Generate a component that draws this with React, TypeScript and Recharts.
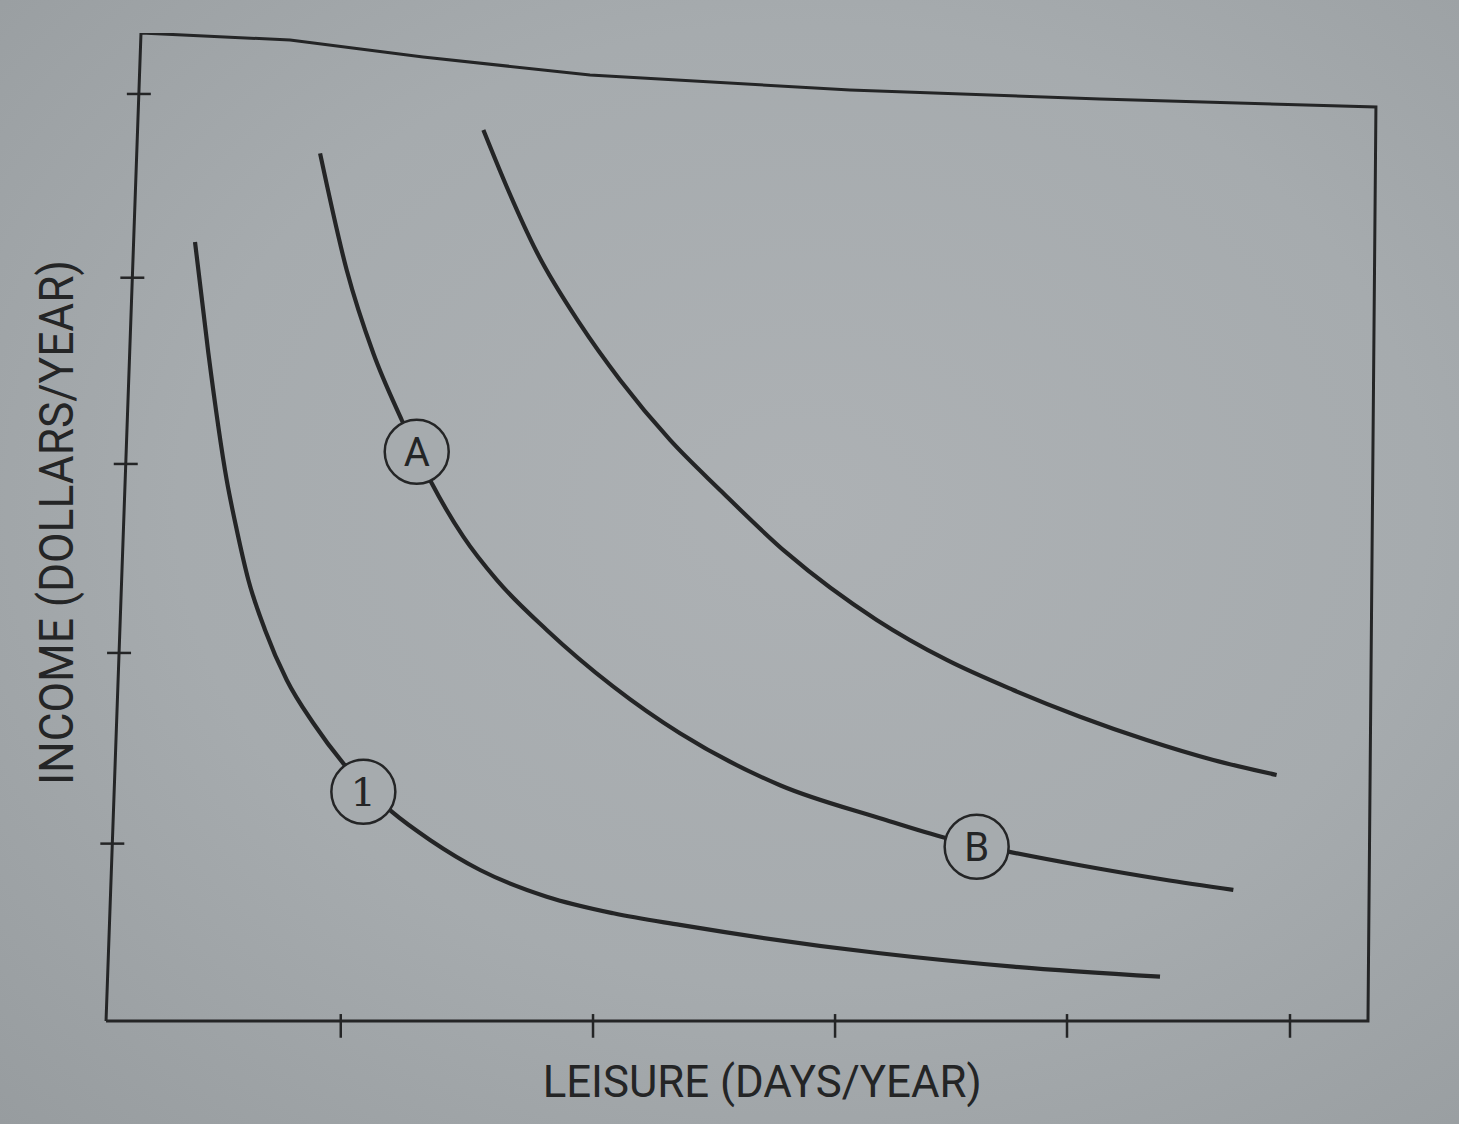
import { LineChart, Line, XAxis, YAxis, ReferenceDot, ReferenceLine } from 'recharts';

// Indifference curves (leisure, income in arbitrary 0-100 units)
const curveLow = [
  { leisure: 7.05, income: 78.85 },
  { leisure: 8.11, income: 67.58 },
  { leisure: 9.56, income: 54.76 },
  { leisure: 10.36, income: 49.7 },
  { leisure: 11.28, income: 44.64 },
  { leisure: 12.6, income: 39.58 },
  { leisure: 14.32, income: 34.51 },
  { leisure: 16.43, income: 30.13 },
  { leisure: 18.8, income: 26.08 },
  { leisure: 22.64, income: 21.18 },
  { leisure: 25.67, income: 18.32 },
  { leisure: 29.64, income: 15.28 },
  { leisure: 34.92, income: 12.58 },
  { leisure: 40.2, income: 10.9 },
  { leisure: 45.48, income: 9.72 },
  { leisure: 61.33, income: 6.85 },
  { leisure: 71.89, income: 5.5 },
  { leisure: 83.52, income: 4.48 },
];

const curveMid = [
  { leisure: 16.96, income: 87.82 },
  { leisure: 19.07, income: 76.01 },
  { leisure: 21.18, income: 67.58 },
  { leisure: 23.43, income: 60.83 },
  { leisure: 25.81, income: 54.42 },
  { leisure: 28.31, income: 49.02 },
  { leisure: 30.96, income: 44.64 },
  { leisure: 34.92, income: 39.58 },
  { leisure: 40.2, income: 33.84 },
  { leisure: 45.48, income: 29.12 },
  { leisure: 53.41, income: 23.86 },
  { leisure: 61.33, income: 20.52 },
  { leisure: 66.62, income: 18.49 },
  { leisure: 71.5, income: 17.14 },
  { leisure: 77.18, income: 15.76 },
  { leisure: 83.78, income: 14.32 },
  { leisure: 89.33, income: 13.26 },
];

const curveHigh = [
  { leisure: 29.9, income: 90.18 },
  { leisure: 31.75, income: 84.44 },
  { leisure: 34.13, income: 77.83 },
  { leisure: 37.56, income: 70.55 },
  { leisure: 40.73, income: 64.88 },
  { leisure: 44.69, income: 58.81 },
  { leisure: 48.65, income: 53.75 },
  { leisure: 53.94, income: 47.37 },
  { leisure: 61.07, income: 40.59 },
  { leisure: 66.62, income: 36.54 },
  { leisure: 71.89, income: 33.5 },
  { leisure: 77.18, income: 30.8 },
  { leisure: 82.46, income: 28.44 },
  { leisure: 87.74, income: 26.42 },
  { leisure: 92.76, income: 24.9 },
];

// circled markers sitting on the curves
const markers = [
  { name: '1', leisure: 20.39, income: 23.21 },
  { name: 'A', leisure: 24.62, income: 57.62 },
  { name: 'B', leisure: 68.99, income: 17.64 },
];

// the printed frame is slightly skewed in the photo
const frame = [
  { leisure: 0, income: 0 },
  { leisure: 100, income: 0 },
  { leisure: 100.63, income: 92.51 },
  { leisure: 78.76, income: 93.32 },
  { leisure: 58.95, income: 94.23 },
  { leisure: 38.35, income: 95.75 },
  { leisure: 25.12, income: 97.57 },
  { leisure: 14.58, income: 99.29 },
  { leisure: 2.77, income: 100 },
  { leisure: 0, income: 0 },
];

const leisureTicks = [18.6, 38.59, 57.77, 76.15, 93.82];
const incomeTicks = [17.95, 37.25, 56.38, 75.23, 93.83];

const INK = '#242526';
const PAPER = '#a6abae';
const FONT = "'Liberation Sans Narrow', 'Roboto', 'Liberation Sans', sans-serif";

// left edge leans: x offset grows with height
const leftEdgeAt = (income: number) => (2.77 * income) / 100;

export default function App() {
  return (
    <div
      style={{
        position: 'absolute',
        left: 0,
        top: 0,
        width: 1459,
        height: 1124,
        background: `radial-gradient(ellipse at 55% 45%, #adb1b4 0%, ${PAPER} 55%, #979c9f 100%)`,
      }}
    >
      <LineChart
        width={1459}
        height={1124}
        margin={{ top: 33, right: 78.4, bottom: 73.4, left: 80.8 }}
      >
        <XAxis type="number" dataKey="leisure" domain={[-2, 101]} allowDataOverflow hide />
        <YAxis type="number" dataKey="income" domain={[-3, 100]} allowDataOverflow hide />

        <Line
          data={frame}
          dataKey="income"
          type="linear"
          stroke={INK}
          strokeWidth={3}
          dot={false}
          activeDot={false}
          isAnimationActive={false}
        />

        {leisureTicks.map((t) => (
          <ReferenceLine
            key={`lx${t}`}
            segment={[
              { x: t, y: 0.7 },
              { x: t, y: -1.7 },
            ]}
            stroke={INK}
            strokeWidth={2.5}
            ifOverflow="visible"
          />
        ))}
        {incomeTicks.map((t) => (
          <ReferenceLine
            key={`ly${t}`}
            segment={[
              { x: leftEdgeAt(t) - 0.95, y: t },
              { x: leftEdgeAt(t) + 0.95, y: t },
            ]}
            stroke={INK}
            strokeWidth={2.5}
            ifOverflow="visible"
          />
        ))}

        {[curveLow, curveMid, curveHigh].map((c, i) => (
          <Line
            key={i}
            data={c}
            dataKey="income"
            type="monotone"
            stroke={INK}
            strokeWidth={4.2}
            strokeLinecap="butt"
            dot={false}
            activeDot={false}
            isAnimationActive={false}
          />
        ))}

        {markers.map((m) => (
          <ReferenceDot
            key={m.name}
            x={m.leisure}
            y={m.income}
            r={32}
            fill={PAPER}
            stroke={INK}
            strokeWidth={2.5}
            ifOverflow="visible"
            label={{
              value: m.name,
              position: 'center',
              fill: INK,
              fontSize: 40,
              fontFamily: m.name === '1' ? "'DejaVu Serif', serif" : FONT,
            }}
          />
        ))}

        <text
          x={542.7}
          y={1097}
          fill={INK}
          fontSize={45}
          fontFamily={FONT}
          textLength={439}
          lengthAdjust="spacingAndGlyphs"
        >
          LEISURE (DAYS/YEAR)
        </text>
        <text
          x={73}
          y={785}
          transform="rotate(-90, 73, 785)"
          fill={INK}
          fontSize={48}
          fontFamily={FONT}
          textLength={525}
          lengthAdjust="spacingAndGlyphs"
        >
          INCOME (DOLLARS/YEAR)
        </text>
      </LineChart>
    </div>
  );
}
